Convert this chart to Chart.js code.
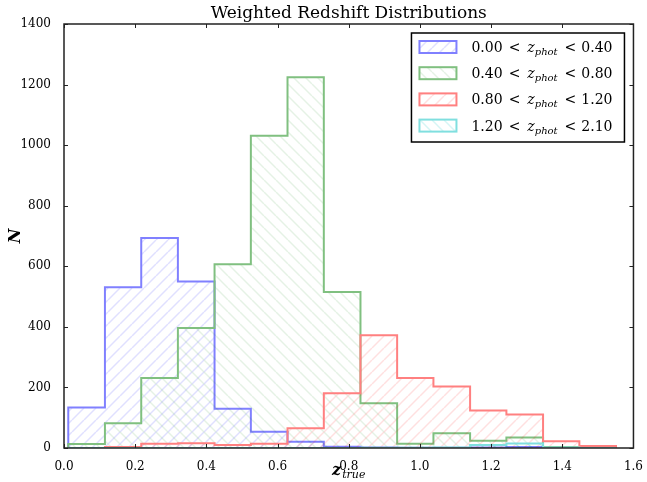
<!DOCTYPE html>
<html>
<head>
<meta charset="utf-8">
<title>Weighted Redshift Distributions</title>
<script src="https://cdn.jsdelivr.net/npm/chart.js@4.4.1/dist/chart.umd.min.js"></script>
<style>
  html, body { margin: 0; padding: 0; background: #fff; }
  #chart { display: block; }
</style>
</head>
<body>
<canvas id="chart" width="647" height="482"></canvas>
<script>
// histogram bin edges in z_true
const binEdges = [0.012, 0.115, 0.217, 0.320, 0.423, 0.525, 0.628, 0.730,
                  0.833, 0.936, 1.038, 1.141, 1.243, 1.346, 1.448, 1.551];

// weighted counts per bin, one array per photo-z slice
const countsSlice1 = [134, 531, 693, 550, 130, 54, 21, 4, 2, 1, 1, 2, 3, 3, 0];
const countsSlice2 = [13, 82, 231, 396, 607, 1031, 1224, 515, 148, 14, 49, 24, 35, 3, 2];
const countsSlice3 = [0, 3, 14, 16, 10, 14, 65, 181, 372, 231, 203, 124, 111, 22, 7];
const countsSlice4 = [0, 0, 0, 0, 0, 0, 0, 0, 1, 1, 2, 10, 15, 2, 0];

// slice limits shown in the legend
const sliceLow = ["0.00", "0.40", "0.80", "1.20"];
const sliceHigh = ["0.40", "0.80", "1.20", "2.10"];

const lineColors = ["#8080ff", "#80c080", "#ff8080", "#80dfdf"];
const hatchColors = ["rgba(0,0,255,0.12)", "rgba(0,128,0,0.1)", "rgba(255,0,0,0.12)", "rgba(0,191,191,0.16)"];
const hatchDirs = ["/", "\\", "/", "\\"];

const serif = "'DejaVu Serif', 'Liberation Serif', serif";

// outline of a step histogram: up at the first edge, across each bin, down at the last
function stepPoints(counts) {
  const pts = [{ x: binEdges[0], y: 0 }];
  counts.forEach((c, i) => {
    pts.push({ x: binEdges[i], y: c });
    pts.push({ x: binEdges[i + 1], y: c });
  });
  pts.push({ x: binEdges[binEdges.length - 1], y: 0 });
  return pts;
}

function hatch(color, dir) {
  const s = 12;
  const c = document.createElement("canvas");
  c.width = s;
  c.height = s;
  const g = c.getContext("2d");
  g.strokeStyle = color;
  g.lineWidth = 1.5;
  g.beginPath();
  for (let k = -1; k <= 1; k++) {
    if (dir === "/") {
      g.moveTo(k * s, s);
      g.lineTo(k * s + s, 0);
    } else {
      g.moveTo(k * s, 0);
      g.lineTo(k * s + s, s);
    }
  }
  g.stroke();
  return g.createPattern(c, "repeat");
}

const allCounts = [countsSlice1, countsSlice2, countsSlice3, countsSlice4];
const patterns = hatchColors.map((c, i) => hatch(c, hatchDirs[i]));

const datasets = allCounts.map((counts, i) => ({
  label: sliceLow[i] + " < z_phot < " + sliceHigh[i],
  data: stepPoints(counts),
  borderColor: lineColors[i],
  backgroundColor: patterns[i],
  borderWidth: 2,
  borderJoinStyle: "miter",
  pointRadius: 0,
  tension: 0,
  fill: "origin",
  order: 4 - i
}));

// frame, inward ticks, title, axis labels and legend
const decorations = {
  id: "decorations",
  afterDatasetsDraw(chart) {
    const { ctx, chartArea: a, scales: { x, y } } = chart;
    ctx.save();
    ctx.strokeStyle = "#222";
    ctx.lineWidth = 1;
    ctx.beginPath();
    x.ticks.forEach((t) => {
      const px = Math.round(x.getPixelForValue(t.value)) + 0.5;
      ctx.moveTo(px, a.bottom);
      ctx.lineTo(px, a.bottom - 4);
      ctx.moveTo(px, a.top);
      ctx.lineTo(px, a.top + 4);
    });
    y.ticks.forEach((t) => {
      const py = Math.round(y.getPixelForValue(t.value)) + 0.5;
      ctx.moveTo(a.left, py);
      ctx.lineTo(a.left + 4, py);
      ctx.moveTo(a.right, py);
      ctx.lineTo(a.right - 4, py);
    });
    ctx.stroke();
    ctx.lineWidth = 1.5;
    ctx.strokeRect(a.left, a.top, a.width, a.height);
    ctx.restore();
  },
  afterDraw(chart) {
    const { ctx, chartArea: a } = chart;
    const cx = (a.left + a.right) / 2;
    ctx.save();
    ctx.fillStyle = "#000";

    // title
    ctx.font = "17px " + serif;
    ctx.textAlign = "center";
    ctx.textBaseline = "alphabetic";
    ctx.fillText("Weighted Redshift Distributions", cx, a.top - 6);

    // x axis label: z_true
    ctx.textAlign = "left";
    ctx.font = "bold italic 16px " + serif;
    const zw = ctx.measureText("z").width;
    ctx.font = "italic 11px " + serif;
    const tw = ctx.measureText("true").width;
    let lx = cx - (zw + tw + 1) / 2;
    ctx.font = "bold italic 16px " + serif;
    ctx.fillText("z", lx, a.bottom + 27);
    ctx.font = "italic 11px " + serif;
    ctx.fillText("true", lx + zw + 1, a.bottom + 30);

    // y axis label: N
    ctx.save();
    ctx.translate(16, (a.top + a.bottom) / 2);
    ctx.rotate(-Math.PI / 2);
    ctx.textAlign = "center";
    ctx.textBaseline = "middle";
    ctx.font = "bold italic 16px " + serif;
    ctx.fillText("N", 0, 0);
    ctx.restore();

    // legend
    const bw = 213, bh = 109;
    const bx = a.right - 9 - bw, by = a.top + 9;
    ctx.fillStyle = "#fff";
    ctx.fillRect(bx, by, bw, bh);
    ctx.strokeStyle = "#000";
    ctx.lineWidth = 1.5;
    ctx.strokeRect(bx, by, bw, bh);
    for (let i = 0; i < sliceLow.length; i++) {
      const ry = by + 14 + 26.2 * i;
      ctx.fillStyle = "#fff";
      ctx.fillRect(bx + 8, ry - 6, 37, 12);
      ctx.fillStyle = patterns[i];
      ctx.fillRect(bx + 8, ry - 6, 37, 12);
      ctx.strokeStyle = lineColors[i];
      ctx.lineWidth = 2;
      ctx.strokeRect(bx + 8, ry - 6, 37, 12);

      ctx.fillStyle = "#000";
      let tx = bx + 60;
      const base = ry + 5;
      ctx.font = "14px " + serif;
      ctx.fillText(sliceLow[i], tx, base);
      tx += ctx.measureText(sliceLow[i]).width + 6;
      ctx.fillText("<", tx, base);
      tx += ctx.measureText("<").width + 7;
      ctx.font = "italic 14px " + serif;
      ctx.fillText("z", tx, base);
      tx += ctx.measureText("z").width;
      ctx.font = "italic 10px " + serif;
      ctx.fillText("phot", tx, base + 3);
      tx += ctx.measureText("phot").width + 7;
      ctx.font = "14px " + serif;
      ctx.fillText("<", tx, base);
      tx += ctx.measureText("<").width + 5;
      ctx.fillText(sliceHigh[i], tx, base);
    }
    ctx.restore();
  }
};

const config = {
  type: "line",
  data: { datasets: datasets },
  options: {
    responsive: false,
    animation: false,
    layout: { padding: { top: 24, right: 11, bottom: 0, left: 0 } },
    plugins: {
      legend: { display: false },
      title: { display: false },
      tooltip: { enabled: false }
    },
    scales: {
      x: {
        type: "linear",
        min: 0,
        max: 1.6,
        grid: { display: false },
        border: { display: false },
        ticks: {
          stepSize: 0.2,
          padding: 4,
          color: "#000",
          font: { family: serif, size: 12 },
          maxRotation: 0,
          callback: (v) => v.toFixed(1)
        },
        afterFit: (scale) => { scale.height = 34; }
      },
      y: {
        min: 0,
        max: 1400,
        grid: { display: false },
        border: { display: false },
        ticks: {
          stepSize: 200,
          padding: 5,
          color: "#000",
          font: { family: serif, size: 12 },
          callback: (v) => String(v)
        },
        afterFit: (scale) => { scale.width = 64; }
      }
    }
  },
  plugins: [decorations]
};

const chart = new Chart(document.getElementById("chart"), config);
</script>
</body>
</html>
